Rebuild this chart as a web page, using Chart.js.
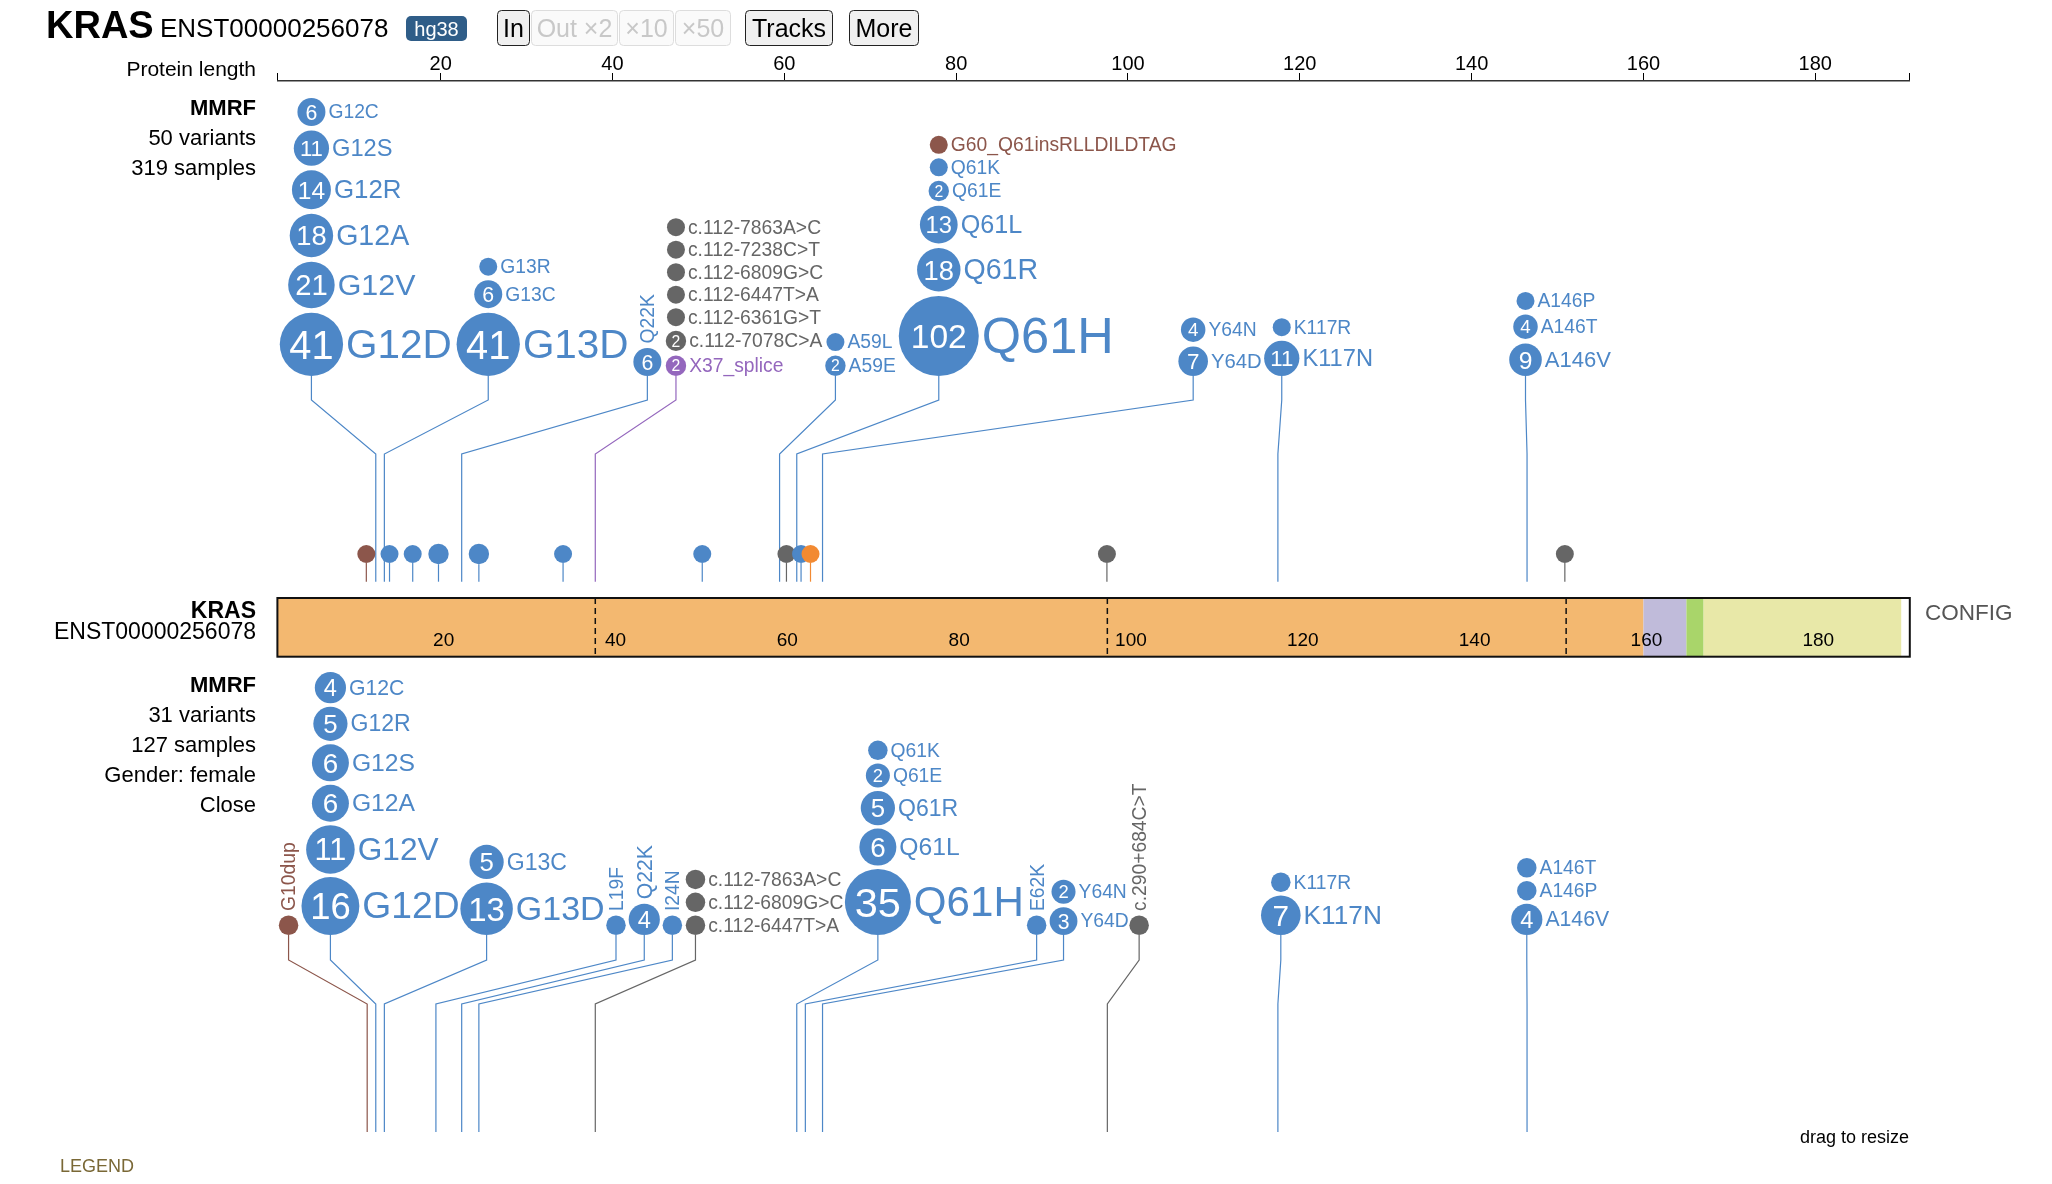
<!DOCTYPE html>
<html><head><meta charset="utf-8">
<script src="https://cdn.jsdelivr.net/npm/chart.js@4/dist/chart.umd.min.js"></script>
<style>html,body{margin:0;padding:0;background:#fff;overflow:hidden}canvas{display:block}</style>
</head><body>
<canvas id="c" width="2052" height="1184"></canvas>
<script>
const FONT = '"Liberation Sans", Arial, Helvetica, sans-serif';

// ---------- data ----------
const GENE = 'KRAS';
const TRANSCRIPT = 'ENST00000256078';
const GENOME = 'hg38';
const AXIS_MIN = 1, AXIS_MAX = 191;
const AXIS_TICKS = [20, 40, 60, 80, 100, 120, 140, 160, 180];
const DOMAIN_START = [1, 160, 165, 167];
const DOMAIN_END   = [160, 165, 167, 190];
const DOMAIN_COLOR = ['#F3B870', '#C0BBDA', '#A9D56A', '#E8E8A8'];
const EXON_BOUNDS = [38.0, 97.6, 151.0];
const RES_CENTER = 0.45;
const CLASS_COLOR = { M: '#4D87C7', N: '#666666', S: '#9467BD', I: '#8C564B', X: '#F28A32' };

// upper track: MMRF (all)
const UP_INFO = ['MMRF', '50 variants', '319 samples'];
const UP_POS = [12, 13, 22, 37.55, 59, 61, 64, 117, 146];
const UP_COL = [4.96, 25.54, 44.06, 47.39, 65.95, 77.98, 107.59, 117.9, 146.27];
const UP_ROT = [false, false, true, false, false, false, false, false, false];
const UP_NAMES = [
  ['G12D', 'G12V', 'G12A', 'G12R', 'G12S', 'G12C'],
  ['G13D', 'G13C', 'G13R'],
  ['Q22K'],
  ['X37_splice', 'c.112-7078C>A', 'c.112-6361G>T', 'c.112-6447T>A', 'c.112-6809G>C', 'c.112-7238C>T', 'c.112-7863A>C'],
  ['A59E', 'A59L'],
  ['Q61H', 'Q61R', 'Q61L', 'Q61E', 'Q61K', 'G60_Q61insRLLDILDTAG'],
  ['Y64D', 'Y64N'],
  ['K117N', 'K117R'],
  ['A146V', 'A146T', 'A146P']
];
const UP_COUNTS = [[41, 21, 18, 14, 11, 6], [41, 6, 1], [6], [2, 2, 1, 1, 1, 1, 1], [2, 1], [102, 18, 13, 2, 1, 1], [7, 4], [11, 1], [9, 4, 1]];
const UP_CLASS = [
  ['M', 'M', 'M', 'M', 'M', 'M'], ['M', 'M', 'M'], ['M'],
  ['S', 'N', 'N', 'N', 'N', 'N', 'N'], ['M', 'M'],
  ['M', 'M', 'M', 'M', 'M', 'I'], ['M', 'M'], ['M', 'M'], ['M', 'M', 'M']
];
const UP_SMALL_POS = [10.9, 13.6, 16.3, 19.3, 24.0, 33.8, 50.0, 59.8, 61.5, 62.6, 97.1, 150.4];
const UP_SMALL_COUNT = [1, 1, 1, 2, 2, 1, 1, 1, 1, 1, 1, 1];
const UP_SMALL_CLASS = ['I', 'M', 'M', 'M', 'M', 'M', 'M', 'N', 'M', 'X', 'N', 'N'];

// lower track: MMRF, Gender: female
const LO_INFO = ['MMRF', '31 variants', '127 samples', 'Gender: female', 'Close'];
const LO_POS = [11, 12, 13, 19, 22, 24, 37.55, 61, 62, 64, 97.15, 117, 146];
const LO_COL = [2.30, 7.17, 25.35, 40.41, 43.70, 46.97, 49.66, 70.89, 89.37, 92.5, 101.3, 117.79, 146.42];
const LO_ROT = [true, false, false, true, true, true, false, false, true, false, true, false, false];
const LO_NAMES = [
  ['G10dup'],
  ['G12D', 'G12V', 'G12A', 'G12S', 'G12R', 'G12C'],
  ['G13D', 'G13C'],
  ['L19F'], ['Q22K'], ['I24N'],
  ['c.112-6447T>A', 'c.112-6809G>C', 'c.112-7863A>C'],
  ['Q61H', 'Q61L', 'Q61R', 'Q61E', 'Q61K'],
  ['E62K'],
  ['Y64D', 'Y64N'],
  ['c.290+684C>T'],
  ['K117N', 'K117R'],
  ['A146V', 'A146P', 'A146T']
];
const LO_COUNTS = [[1], [16, 11, 6, 6, 5, 4], [13, 5], [1], [4], [1], [1, 1, 1], [35, 6, 5, 2, 1], [1], [3, 2], [1], [7, 1], [4, 1, 1]];
const LO_CLASS = [
  ['I'], ['M', 'M', 'M', 'M', 'M', 'M'], ['M', 'M'], ['M'], ['M'], ['M'],
  ['N', 'N', 'N'], ['M', 'M', 'M', 'M', 'M'], ['M'], ['M', 'M'], ['N'], ['M', 'M'], ['M', 'M', 'M']
];

// ---------- layout / style ----------
const UPPER = { baseline: 376, bendTop: 400, bendBottom: 454, stemEnd: 581.7, smallY: 554, rCap: 40, r1sq: 81, k: 23, gap: 4.5 };
const LOWER = { baseline: 935, bendTop: 960, bendBottom: 1004, stemEnd: 1132, rCap: 33, r1sq: 95, k: 49.5, gap: 3.4 };
const BAR = { top: 598, bottom: 656.7 };

function rad(T, n) { return Math.min(T.rCap, Math.sqrt(T.r1sq + T.k * (n - 1))); }
function labelFont(r) { return Math.max(19.3, 1.2 * r + 2.5); }
function numFont(r, s) { return Math.min(1.45 * r + 1, 2 * r * 0.7 / (0.556 * s.length)); }

function layoutTrack(T, POS, COL, NAMES, COUNTS, CLASSES, ROT) {
  const groups = [];
  for (let g = 0; g < POS.length; g++) {
    let bottom = T.baseline;
    const discs = [];
    for (let i = 0; i < NAMES[g].length; i++) {
      const n = COUNTS[g][i], r = rad(T, n), cy = bottom - r;
      discs.push({ name: NAMES[g][i], n, r, cy, cls: CLASSES[g][i] });
      bottom = cy - r - T.gap;
    }
    groups.push({ pos: POS[g], col: COL[g], rot: ROT[g], discs });
  }
  return groups;
}
const upGroups = layoutTrack(UPPER, UP_POS, UP_COL, UP_NAMES, UP_COUNTS, UP_CLASS, UP_ROT);
const loGroups = layoutTrack(LOWER, LO_POS, LO_COL, LO_NAMES, LO_COUNTS, LO_CLASS, LO_ROT);
const upSmall = UP_SMALL_POS.map((p, i) => ({ x: p + RES_CENTER, y: UPPER.smallY, r: rad(UPPER, UP_SMALL_COUNT[i]), cls: UP_SMALL_CLASS[i] }));

function discPoints(groups) {
  const pts = [], cols = [];
  groups.forEach(g => g.discs.forEach(d => { pts.push({ x: g.col, y: d.cy, r: d.r }); cols.push(CLASS_COLOR[d.cls]); }));
  return { pts, cols };
}
const upD = discPoints(upGroups), loD = discPoints(loGroups);

// ---------- drawing helpers ----------
function txt(ctx, s, x, capMid, size, color, align, weight) {
  ctx.font = (weight || 'normal') + ' ' + size + 'px ' + FONT;
  ctx.fillStyle = color; ctx.textAlign = align || 'left'; ctx.textBaseline = 'alphabetic';
  ctx.fillText(s, x, capMid + 0.358 * size);
}
function rr(ctx, x, y, w, h, r) {
  ctx.beginPath(); ctx.moveTo(x + r, y);
  ctx.arcTo(x + w, y, x + w, y + h, r); ctx.arcTo(x + w, y + h, x, y + h, r);
  ctx.arcTo(x, y + h, x, y, r); ctx.arcTo(x, y, x + w, y, r); ctx.closePath();
}

const BTN_LABELS = ['In', 'Out ×2', '×10', '×50', 'Tracks', 'More'];
const BTN_X = [497, 531, 619, 675, 745, 849];
const BTN_W = [32, 86, 54, 55, 87, 69];
const BTN_ON = [true, false, false, false, true, true];

const lolliPlugin = {
  id: 'lolli',
  beforeDatasetsDraw(chart) {
    const ctx = chart.ctx, xs = chart.scales.x, ys = chart.scales.y;
    const Y = v => ys.getPixelForValue(v);
    ctx.save();
    // header
    txt(ctx, GENE, 46, 24.5, 38, '#000', 'left', 'bold');
    txt(ctx, TRANSCRIPT, 160, 27.7, 26, '#000', 'left');
    rr(ctx, 406, 16, 61, 25, 5); ctx.fillStyle = '#2F5D88'; ctx.fill();
    txt(ctx, GENOME, 436.5, 28.5, 20, '#fff', 'center');
    for (let i = 0; i < BTN_LABELS.length; i++) {
      rr(ctx, BTN_X[i] + 0.5, 10.5, BTN_W[i], 35, 4);
      ctx.fillStyle = BTN_ON[i] ? '#F0F0F0' : '#FAFAFA'; ctx.fill();
      ctx.lineWidth = 1; ctx.strokeStyle = BTN_ON[i] ? '#222' : '#DDD'; ctx.stroke();
      txt(ctx, BTN_LABELS[i], BTN_X[i] + 0.5 + BTN_W[i] / 2, 28, 25, BTN_ON[i] ? '#000' : '#C8C8C8', 'center');
    }
    txt(ctx, 'Protein length', 256, 68.5, 21, '#000', 'right');

    // track info labels
    UP_INFO.forEach((s, i) => txt(ctx, s, 256, Y(107.5 + 30 * i), 22, '#000', 'right', i === 0 ? 'bold' : 'normal'));
    LO_INFO.forEach((s, i) => txt(ctx, s, 256, Y(684.5 + 30 * i), 22, '#000', 'right', i === 0 ? 'bold' : 'normal'));

    // protein bar
    const bx0 = xs.getPixelForValue(AXIS_MIN), bx1 = xs.getPixelForValue(AXIS_MAX);
    const by0 = Y(BAR.top), by1 = Y(BAR.bottom);
    ctx.fillStyle = '#fff'; ctx.fillRect(bx0, by0, bx1 - bx0, by1 - by0);
    for (let i = 0; i < DOMAIN_START.length; i++) {
      const a = xs.getPixelForValue(DOMAIN_START[i]), b = xs.getPixelForValue(DOMAIN_END[i]);
      ctx.fillStyle = DOMAIN_COLOR[i]; ctx.fillRect(a, by0, b - a, by1 - by0);
    }
    ctx.setLineDash([6, 4]); ctx.lineWidth = 1.5; ctx.strokeStyle = '#111';
    EXON_BOUNDS.forEach(v => {
      const x = xs.getPixelForValue(v);
      ctx.beginPath(); ctx.moveTo(x, by0); ctx.lineTo(x, by1); ctx.stroke();
    });
    ctx.setLineDash([]);
    ctx.lineWidth = 2; ctx.strokeStyle = '#111';
    ctx.strokeRect(bx0, by0, bx1 - bx0, by1 - by0);
    AXIS_TICKS.forEach(v => txt(ctx, String(v), xs.getPixelForValue(v) + 3, Y(639), 19, '#000', 'center'));
    txt(ctx, GENE, 256, Y(609.5), 23, '#000', 'right', 'bold');
    txt(ctx, TRANSCRIPT, 256, Y(631), 23, '#000', 'right');
    txt(ctx, 'CONFIG', 1925, Y(612), 22.5, '#555', 'left');

    // stems
    ctx.lineWidth = 1.2;
    const stems = (groups, T) => groups.forEach(g => {
      const cx = xs.getPixelForValue(g.col), sx = xs.getPixelForValue(g.pos + RES_CENTER);
      ctx.strokeStyle = CLASS_COLOR[g.discs[0].cls];
      ctx.beginPath();
      ctx.moveTo(cx, Y(T.baseline));
      ctx.lineTo(cx, Y(T.bendTop));
      ctx.lineTo(sx, Y(T.bendBottom));
      ctx.lineTo(sx, Y(T.stemEnd));
      ctx.stroke();
    });
    stems(upGroups, UPPER);
    stems(loGroups, LOWER);
    upSmall.forEach(p => {
      const x = xs.getPixelForValue(p.x);
      ctx.strokeStyle = CLASS_COLOR[p.cls];
      ctx.beginPath(); ctx.moveTo(x, Y(p.y) + p.r); ctx.lineTo(x, Y(UPPER.stemEnd)); ctx.stroke();
    });

    // footer
    txt(ctx, 'drag to resize', 1909, Y(1137), 18, '#000', 'right');
    txt(ctx, 'LEGEND', 60, Y(1166), 18, '#7A6836', 'left');
    ctx.restore();
  },
  afterDatasetsDraw(chart) {
    const ctx = chart.ctx, xs = chart.scales.x, ys = chart.scales.y;
    ctx.save();
    const labels = groups => groups.forEach(g => {
      const cx = xs.getPixelForValue(g.col);
      g.discs.forEach(d => {
        const cy = ys.getPixelForValue(d.cy), col = CLASS_COLOR[d.cls];
        if (d.n > 1) {
          const s = String(d.n);
          txt(ctx, s, cx, cy, numFont(d.r, s), '#fff', 'center');
        }
        const fs = labelFont(d.r);
        if (g.rot) {
          ctx.save();
          ctx.translate(cx, cy - d.r - 4.5);
          ctx.rotate(-Math.PI / 2);
          ctx.font = fs + 'px ' + FONT; ctx.fillStyle = col; ctx.textAlign = 'left'; ctx.textBaseline = 'alphabetic';
          ctx.fillText(d.name, 0, 0.358 * fs);
          ctx.restore();
        } else {
          ctx.font = fs + 'px ' + FONT; ctx.fillStyle = col; ctx.textAlign = 'left'; ctx.textBaseline = 'alphabetic';
          ctx.fillText(d.name, cx + d.r + 3, cy + 0.33 * fs);
        }
      });
    });
    labels(upGroups);
    labels(loGroups);
    ctx.restore();
  }
};

new Chart(document.getElementById('c'), {
  type: 'bubble',
  data: {
    datasets: [
      { data: upSmall.map(p => ({ x: p.x, y: p.y, r: p.r })), backgroundColor: upSmall.map(p => CLASS_COLOR[p.cls]), borderWidth: 0, clip: false },
      { data: upD.pts, backgroundColor: upD.cols, borderWidth: 0, clip: false },
      { data: loD.pts, backgroundColor: loD.cols, borderWidth: 0, clip: false }
    ]
  },
  options: {
    responsive: false, devicePixelRatio: 1, animation: false, events: [],
    layout: { autoPadding: false, padding: { left: 277.4, right: 142.2, top: 0, bottom: 0 } },
    plugins: { legend: { display: false }, tooltip: { enabled: false }, title: { display: false } },
    scales: {
      x: {
        type: 'linear', position: 'top', min: AXIS_MIN, max: AXIS_MAX,
        afterBuildTicks: s => { s.ticks = [AXIS_MIN].concat(AXIS_TICKS, [AXIS_MAX]).map(v => ({ value: v })); },
        afterFit: s => { s.height = 81; },
        ticks: { autoSkip: false, maxRotation: 0, padding: -3, color: '#000', font: { family: FONT, size: 20 },
                 callback: v => (v === AXIS_MIN || v === AXIS_MAX) ? '' : String(v) },
        grid: { drawOnChartArea: false, drawTicks: true, tickLength: 8, color: '#000', lineWidth: 1 },
        border: { display: true, color: '#333', width: 1.5 }
      },
      y: { type: 'linear', display: false, min: 81, max: 1184, reverse: true }
    }
  },
  plugins: [lolliPlugin]
});
</script>
</body></html>
